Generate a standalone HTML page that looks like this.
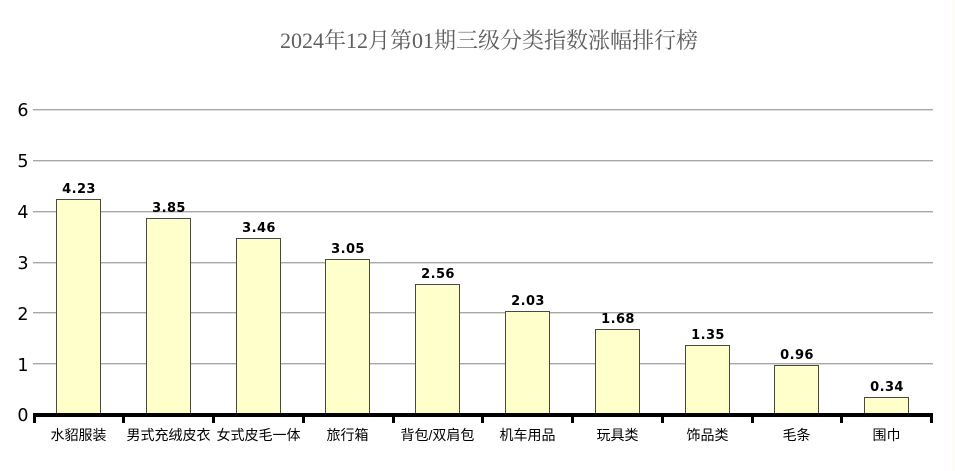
<!DOCTYPE html>
<html>
<head>
<meta charset="utf-8">
<style>
  html, body { margin: 0; padding: 0; background: #ffffff; }
  svg { display: block; }
</style>
</head>
<body>
<svg width="955" height="471" viewBox="0 0 955 471" xmlns="http://www.w3.org/2000/svg">
  <rect x="0" y="0" width="955" height="471" fill="#ffffff"/>
  <rect x="952" y="0" width="3" height="471" fill="#fdfdf1"/>

  <!-- title -->
  <text x="489" y="48" text-anchor="middle" font-family="'Liberation Serif','Noto Serif CJK SC',serif" font-size="22" fill="#5e5e5e">2024年12月第01期三级分类指数涨幅排行榜</text>

  <!-- gridlines -->
  <g>
    <rect x="33" y="109" width="900" height="1" fill="#a8a8a8"/><rect x="33" y="110" width="900" height="1" fill="#dcdcdc"/>
    <rect x="33" y="160" width="900" height="1" fill="#a8a8a8"/><rect x="33" y="161" width="900" height="1" fill="#dcdcdc"/>
    <rect x="33" y="211" width="900" height="1" fill="#a8a8a8"/><rect x="33" y="212" width="900" height="1" fill="#dcdcdc"/>
    <rect x="33" y="262" width="900" height="1" fill="#a8a8a8"/><rect x="33" y="263" width="900" height="1" fill="#dcdcdc"/>
    <rect x="33" y="312" width="900" height="1" fill="#a8a8a8"/><rect x="33" y="313" width="900" height="1" fill="#dcdcdc"/>
    <rect x="33" y="363" width="900" height="1" fill="#a8a8a8"/><rect x="33" y="364" width="900" height="1" fill="#dcdcdc"/>
  </g>

  <!-- y labels -->
  <g font-family="'DejaVu Sans','Liberation Sans',sans-serif" font-size="17.5" fill="#000" text-anchor="end">
    <text x="28.5" y="116">6</text>
    <text x="28.5" y="167">5</text>
    <text x="28.5" y="218">4</text>
    <text x="28.5" y="269">3</text>
    <text x="28.5" y="320">2</text>
    <text x="28.5" y="371">1</text>
    <text x="28.5" y="421">0</text>
  </g>

  <!-- bars -->
  <g fill="#ffffcc" stroke="#4a4a3a" stroke-width="1">
    <rect x="56.5" y="199.5" width="44" height="214.5"/>
    <rect x="146.5" y="218.5" width="44" height="195.5"/>
    <rect x="236.5" y="238.5" width="44" height="175.5"/>
    <rect x="325.5" y="259.5" width="44" height="154.5"/>
    <rect x="415.5" y="284.5" width="44" height="129.5"/>
    <rect x="505.5" y="311.5" width="44" height="102.5"/>
    <rect x="595.5" y="329.5" width="44" height="84.5"/>
    <rect x="685.5" y="345.5" width="44" height="68.5"/>
    <rect x="774.5" y="365.5" width="44" height="48.5"/>
    <rect x="864.5" y="397.5" width="44" height="16.5"/>
  </g>

  <!-- value labels -->
  <g font-family="'DejaVu Sans','Liberation Sans',sans-serif" font-size="13" font-weight="bold" fill="#000" text-anchor="middle" letter-spacing="0.4">
    <text x="79" y="193">4.23</text>
    <text x="169" y="212">3.85</text>
    <text x="259" y="232">3.46</text>
    <text x="348" y="253">3.05</text>
    <text x="438" y="278">2.56</text>
    <text x="528" y="305">2.03</text>
    <text x="618" y="323">1.68</text>
    <text x="708" y="339">1.35</text>
    <text x="797" y="359">0.96</text>
    <text x="887" y="391">0.34</text>
  </g>

  <!-- baseline and ticks -->
  <rect x="33" y="413" width="900" height="4" fill="#000"/>
  <g fill="#000">
    <rect x="33" y="413" width="3" height="10"/>
    <rect x="122" y="413" width="3" height="10"/>
    <rect x="212" y="413" width="3" height="10"/>
    <rect x="302" y="413" width="3" height="10"/>
    <rect x="392" y="413" width="3" height="10"/>
    <rect x="481" y="413" width="3" height="10"/>
    <rect x="571" y="413" width="3" height="10"/>
    <rect x="661" y="413" width="3" height="10"/>
    <rect x="751" y="413" width="3" height="10"/>
    <rect x="840" y="413" width="3" height="10"/>
    <rect x="930" y="413" width="3" height="10"/>
  </g>

  <!-- category labels -->
  <g font-family="'Liberation Sans','Noto Sans CJK SC',sans-serif" font-size="14" fill="#000" text-anchor="middle">
    <text x="78.5" y="440">水貂服装</text>
    <text x="168.5" y="440">男式充绒皮衣</text>
    <text x="258.5" y="440">女式皮毛一体</text>
    <text x="347.5" y="440">旅行箱</text>
    <text x="437.5" y="440">背包/双肩包</text>
    <text x="527.5" y="440">机车用品</text>
    <text x="617.5" y="440">玩具类</text>
    <text x="707.5" y="440">饰品类</text>
    <text x="796.5" y="440">毛条</text>
    <text x="886.5" y="440">围巾</text>
  </g>
</svg>
</body>
</html>
